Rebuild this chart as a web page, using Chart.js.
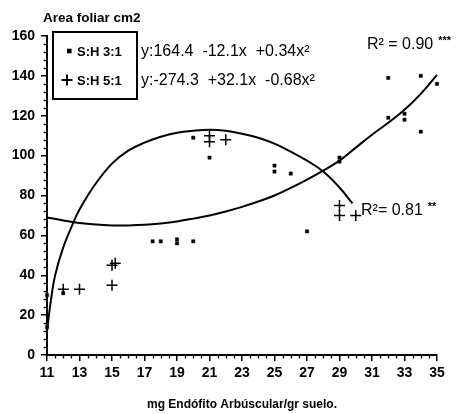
<!DOCTYPE html>
<html><head><meta charset="utf-8">
<script src="https://cdn.jsdelivr.net/npm/chart.js@4"></script>
<style>html,body{margin:0;padding:0;background:#fff}</style>
</head><body>
<canvas id="c" width="462" height="414"></canvas>
<script>
// ---- data ----
const seriesNames = ['S:H 3:1', 'S:H 5:1'];
const xA = [11, 11, 12, 17.5, 18, 19, 19, 20, 20, 21, 25, 25, 26, 27, 29, 29, 32, 33, 33, 34, 32, 34, 35];
const yA = [14, 30, 31, 57, 57, 56, 58, 57, 109, 99, 92, 95, 91, 62, 97, 99, 119, 118, 121, 112, 139, 140, 136];
const xB = [12, 13, 15, 15.2, 15, 21, 21, 22, 29, 29, 30];
const yB = [33, 33, 45, 46, 35, 107, 110, 108, 75, 70, 70];
const fitAx = [11, 12, 13, 14, 15, 16, 17, 18, 19, 20, 21, 22, 23, 24, 25, 26, 27, 28, 29, 30, 31, 32, 33, 34, 35, 35.3];
const fitAy = [69, 67.5, 66.2, 65.4, 65, 65, 65.3, 66, 67, 68.4, 70, 72, 74.3, 77, 80, 83.8, 88, 92.5, 97.5, 104, 110.5, 116.5, 123, 131, 140.5, 143.5];
const fitBx = [11, 11.25, 11.5, 12, 12.6, 13, 14, 15, 16, 17, 18, 19, 20, 21, 22, 23, 24, 25, 26, 27, 28, 29, 29.8];
const fitBy = [12, 28, 40, 54, 66, 73, 86, 96, 102.5, 106.5, 109.5, 111.5, 112.5, 113, 112.5, 111, 109, 106, 102, 97.5, 92, 84, 76];
const xTickValues = [11, 13, 15, 17, 19, 21, 23, 25, 27, 29, 31, 33, 35];
const yTickValues = [0, 20, 40, 60, 80, 100, 120, 140, 160];
const equations = ['y:164.4  -12.1x  +0.34x\u00B2', 'y:-274.3  +32.1x  -0.68x\u00B2'];
const rLabels = [['R\u00B2 = 0.90', '***'], ['R\u00B2= 0.81', '**']];
const yTitle = 'Area foliar cm2';
const xTitle = 'mg Endófito Arbúscular/gr suelo.';

const FAM = '"Liberation Sans", Arial, sans-serif';
const zip = (xs, ys) => xs.map((x, i) => ({x, y: ys[i]}));

const decor = {
  id: 'decor',
  afterDraw(chart) {
    const ctx = chart.ctx, sx = chart.scales.x, sy = chart.scales.y;
    ctx.save();
    ctx.strokeStyle = '#000'; ctx.fillStyle = '#000'; ctx.lineWidth = 1.3;
    // minor ticks
    for (let v = 11; v <= 35.001; v += 0.5) {
      if (xTickValues.includes(v)) continue;
      const px = Math.round(sx.getPixelForValue(v)) + 0.5;
      ctx.beginPath(); ctx.moveTo(px, sy.bottom); ctx.lineTo(px, sy.bottom + 3.5); ctx.stroke();
    }
    for (let v = 0; v <= 160.001; v += 4) {
      if (yTickValues.includes(v)) continue;
      const py = Math.round(sy.getPixelForValue(v)) + 0.5;
      ctx.beginPath(); ctx.moveTo(sx.left, py); ctx.lineTo(sx.left - 3.5, py); ctx.stroke();
    }
    // y title
    ctx.font = 'bold 13.5px ' + FAM; ctx.textBaseline = 'middle'; ctx.textAlign = 'left';
    ctx.fillText(yTitle, 43, 18);
    // legend box
    ctx.lineWidth = 2;
    ctx.strokeRect(53, 32, 84, 67);
    const ds = chart.data.datasets;
    const rows = [51, 80];
    [2, 3].forEach((di, i) => {
      const d = ds[di];
      if (d.pointStyle === 'rect') {
        ctx.fillRect(67, rows[i] - 2.3, 4.6, 4.6);
      } else {
        Chart.helpers.drawPoint(ctx, {pointStyle: d.pointStyle, radius: 5.5, borderWidth: 1.5, rotation: 0}, 67, rows[i]);
      }
      ctx.font = 'bold 13px ' + FAM; ctx.fillStyle = '#000';
      ctx.fillText(d.label, 77, rows[i] + 1);
    });
    // equations
    ctx.font = '16px ' + FAM;
    equations.forEach((t, i) => ctx.fillText(t, 141, rows[i] + 1));
    // R2 labels
    const rPos = [[367, 45], [361, 211]];
    rLabels.forEach((r, i) => {
      ctx.font = '16px ' + FAM;
      ctx.fillText(r[0], rPos[i][0], rPos[i][1]);
      const w = ctx.measureText(r[0]).width;
      ctx.font = 'bold 11px ' + FAM;
      ctx.fillText(r[1], rPos[i][0] + w + 5, rPos[i][1] - 4);
    });
    ctx.restore();
  }
};

new Chart(document.getElementById('c'), {
  type: 'scatter',
  data: {
    datasets: [
      {label: 'fit A', data: zip(fitAx, fitAy), showLine: true, borderColor: '#000', borderWidth: 2, pointRadius: 0, tension: 0.4, fill: false, clip: false},
      {label: 'fit B', data: zip(fitBx, fitBy), showLine: true, borderColor: '#000', borderWidth: 2, pointRadius: 0, tension: 0.4, fill: false, clip: false},
      {label: seriesNames[0], data: zip(xA, yA), pointStyle: 'rect', pointRadius: 2.3, backgroundColor: '#000', borderColor: '#000', pointBorderWidth: 0.5, clip: false},
      {label: seriesNames[1], data: zip(xB, yB), pointStyle: 'cross', pointRadius: 5.5, borderColor: '#000', pointBorderWidth: 1.5, clip: false}
    ]
  },
  options: {
    responsive: false, animation: false, devicePixelRatio: 1,
    layout: {padding: {top: 36, right: 25, left: 0, bottom: 0}},
    plugins: {legend: {display: false}, tooltip: {enabled: false}, title: {display: false}},
    scales: {
      x: {
        type: 'linear', min: 11, max: 35, position: 'bottom',
        afterBuildTicks(s) { s.ticks = xTickValues.map(v => ({value: v})); },
        afterFit(s) { s.height = 59; },
        ticks: {font: {family: FAM, size: 14, weight: 'bold'}, color: '#000', padding: 4, maxRotation: 0, autoSkip: false},
        grid: {display: true, drawOnChartArea: false, drawTicks: true, tickLength: 6, color: '#000', lineWidth: 1.5},
        border: {display: true, color: '#000', width: 2},
        title: {display: true, text: xTitle, font: {family: FAM, size: 12, weight: 'bold'}, color: '#000', padding: {top: 0, bottom: 2}}
      },
      y: {
        type: 'linear', min: 0, max: 160,
        afterBuildTicks(s) { s.ticks = yTickValues.map(v => ({value: v})); },
        afterFit(s) { s.width = 47; },
        ticks: {font: {family: FAM, size: 14, weight: 'bold'}, color: '#000', padding: 6, autoSkip: false},
        grid: {display: true, drawOnChartArea: false, drawTicks: true, tickLength: 6, color: '#000', lineWidth: 1.5},
        border: {display: true, color: '#000', width: 2}
      }
    }
  },
  plugins: [decor]
});
</script>
</body></html>
